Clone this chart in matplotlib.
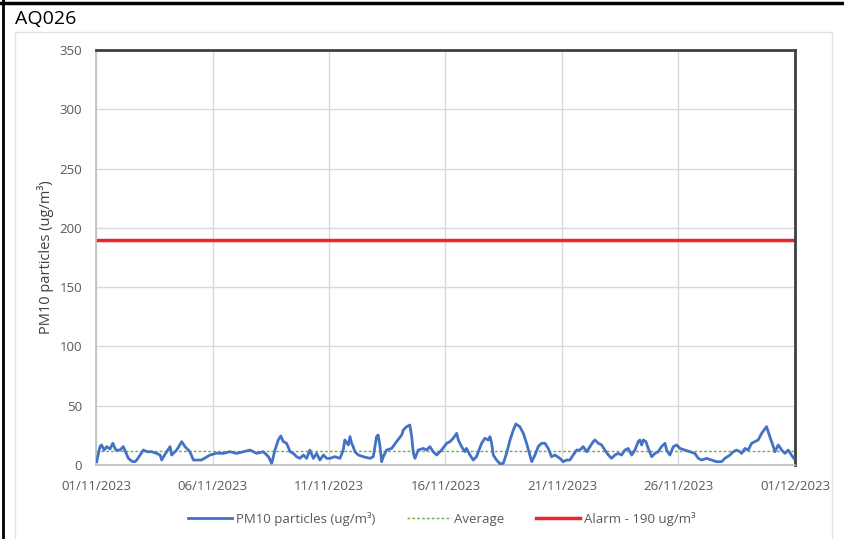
import matplotlib
matplotlib.use("Agg")
import matplotlib.pyplot as plt
from matplotlib.lines import Line2D
from matplotlib.patches import Rectangle

plt.rcParams['font.family'] = ['Open Sans', 'DejaVu Sans']

title = "AQ026"
y_label = "PM10 particles (ug/m³)"
x_tick_days = [0, 5, 10, 15, 20, 25, 30]
x_tick_labels = ["01/11/2023", "06/11/2023", "11/11/2023", "16/11/2023",
                 "21/11/2023", "26/11/2023", "01/12/2023"]
y_ticks = [0, 50, 100, 150, 200, 250, 300, 350]

# PM10 readings: day offset from 01/11/2023 and value (ug/m3)
pm10_days = [
    0.03, 0.17, 0.24, 0.35, 0.46, 0.60, 0.72, 0.85, 1.03, 1.17, 1.39, 1.55, 1.67, 1.75,
    2.03, 2.20, 2.39, 2.60, 2.75, 2.82, 2.96, 3.18, 3.25, 3.46, 3.68, 3.82, 4.03, 4.18,
    4.53, 4.89, 5.18, 5.46, 5.75, 6.04, 6.32, 6.61, 6.75, 6.90, 7.18, 7.40, 7.54, 7.68,
    7.82, 7.93, 8.04, 8.18, 8.33, 8.47, 8.61, 8.75, 8.90, 9.04, 9.18, 9.33, 9.47, 9.61,
    9.76, 9.90,
    10.04, 10.25, 10.47, 10.61, 10.68, 10.83, 10.90, 10.97, 11.04, 11.11, 11.26, 11.47,
    11.76, 11.90, 12.04, 12.11, 12.19, 12.26, 12.33, 12.47, 12.69, 12.90, 13.12, 13.19,
    13.33, 13.47, 13.55, 13.62, 13.69, 13.83, 14.05, 14.19, 14.33, 14.47, 14.62, 14.83,
    15.05, 15.19, 15.33, 15.48, 15.55, 15.69, 15.83, 15.90, 16.05, 16.19, 16.33, 16.55,
    16.69, 16.84, 16.91, 16.98, 17.05, 17.19, 17.34, 17.48, 17.62, 17.77, 17.91, 18.02,
    18.19, 18.34, 18.48, 18.62, 18.70, 18.84, 18.98, 19.12, 19.27, 19.41, 19.55, 19.70,
    19.91, 20.05, 20.20,
    20.34, 20.48, 20.63, 20.77, 20.91, 21.06, 21.20, 21.34, 21.41, 21.56, 21.70, 21.84,
    21.99, 22.13, 22.27, 22.41, 22.56, 22.70, 22.84, 22.99, 23.13, 23.27, 23.34, 23.42,
    23.49, 23.60, 23.70, 23.85, 23.99, 24.13, 24.27, 24.42, 24.49, 24.63, 24.78, 24.92,
    25.06, 25.28, 25.49, 25.70, 25.85, 25.99, 26.21, 26.42, 26.63, 26.85, 26.99, 27.21,
    27.35, 27.49, 27.64, 27.71, 27.85, 27.99, 28.14, 28.28, 28.42, 28.57, 28.67, 28.78,
    28.85, 28.92, 29.07, 29.14, 29.28, 29.43, 29.57, 29.71, 29.85, 29.95,
]
pm10_values = [
    2.8, 15.5, 16.9, 12.6, 15.5, 13.5, 18.3, 12.6, 12.6, 15.5, 5.6, 3.0, 2.8, 4.2,
    12.6, 11.2, 11.2, 9.8, 8.4, 4.2, 9.0, 15.5, 8.4, 12.6, 19.7, 15.5, 11.2, 4.2,
    4.2, 8.4, 10.0, 9.8, 11.2, 9.8, 11.2, 12.6, 11.2, 9.8, 11.2, 7.0, 1.4, 12.6,
    21.0, 24.5, 19.7, 18.3, 11.2, 9.8, 7.0, 5.6, 8.4, 5.6, 12.6, 5.6, 9.8, 4.2,
    8.4, 5.6,
    5.6, 7.0, 5.6, 12.6, 21.1, 16.9, 23.9, 18.3, 15.5, 11.2, 8.4, 7.0,
    5.6, 7.0, 23.9, 25.3, 15.5, 2.8, 7.0, 12.6, 14.0, 19.7, 25.3, 29.5,
    32.3, 33.7, 23.9, 9.8, 5.6, 12.6, 14.0, 12.6, 15.5, 11.2, 8.4, 12.6,
    18.3, 19.7, 22.5, 26.7, 21.1, 15.5, 11.2, 14.0, 8.4, 4.2, 7.0, 18.3,
    22.5, 21.1, 23.9, 18.3, 8.4, 4.2, 1.1, 1.4, 9.8, 21.1, 29.5, 34.6,
    32.3, 26.7, 18.3, 8.4, 2.8, 8.4, 15.5, 18.3, 18.3, 14.0, 7.0, 8.4,
    5.6, 2.8, 4.2,
    4.2, 8.4, 12.6, 12.6, 15.5, 11.2, 15.5, 19.7, 21.1, 18.3, 16.9, 12.6,
    8.4, 5.6, 8.4, 9.8, 8.4, 12.6, 14.0, 8.4, 12.6, 19.7, 21.1, 16.9,
    21.1, 19.7, 14.0, 7.0, 9.8, 11.2, 15.5, 18.3, 12.6, 8.4, 15.5, 16.9,
    14.0, 12.6, 11.2, 9.8, 5.6, 4.2, 5.6, 4.2, 2.8, 2.8, 5.6, 8.4,
    11.2, 12.6, 11.2, 9.8, 14.0, 12.6, 18.3, 19.7, 21.1, 26.7, 29.5, 32.3,
    28.1, 23.9, 15.5, 11.2, 16.9, 12.6, 9.8, 12.6, 8.4, 5.6,
]
average_value = 11.5
alarm_value = 190

W, H = 844, 539
fig = plt.figure(figsize=(W / 100, H / 100), dpi=100)
fig.patch.set_facecolor("white")

# outer frame lines and inner chart-area border
fig.add_artist(Line2D([0, 1], [1 - 3 / H, 1 - 3 / H], color="black", lw=2.5,
                      transform=fig.transFigure))
fig.add_artist(Line2D([3 / W, 3 / W], [0, 1], color="black", lw=2,
                      transform=fig.transFigure))
fig.add_artist(Rectangle((15 / W, -0.05), (832 - 15) / W, (H - 32) / H + 0.05,
                         transform=fig.transFigure, fill=False,
                         edgecolor="#e3e3e3", lw=1))
fig.text(15 / W, 1 - 19 / H, title, fontsize=14, va="center", ha="left",
         color="black")

ax = fig.add_axes([96 / W, (H - 465) / H, (795 - 96) / W, (465 - 50) / H])
ax.set_xlim(0, 30)
ax.set_ylim(0, 350)

ax.plot(pm10_days, pm10_values, color="#4472c4", lw=2.0,
        label="PM10 particles (ug/m³)", zorder=3)
ax.axhline(average_value, color="#70ad47", lw=1.0, ls=(0, (2, 1.5)),
           label="Average", zorder=2)
ax.axhline(alarm_value, color="#e8262b", lw=2.5, label="Alarm - 190 ug/m³",
           zorder=2)

ax.set_xticks(x_tick_days)
ax.set_xticklabels(x_tick_labels)
ax.set_yticks(y_ticks)
ax.grid(True, color="#d9d9d9", lw=1)
ax.set_axisbelow(True)
ax.tick_params(length=0, labelsize=9.5, colors="#595959")
ax.tick_params(axis="y", pad=10)
ax.tick_params(axis="x", pad=11)
for s in ["left", "bottom"]:
    ax.spines[s].set_color("#bfbfbf")
    ax.spines[s].set_linewidth(1.2)
for s in ["top", "right"]:
    ax.spines[s].set_color("#404040")
    ax.spines[s].set_linewidth(2)
ax.set_ylabel(y_label, fontsize=10.5, color="#404040", labelpad=4)

handles, labels = ax.get_legend_handles_labels()
fig.legend(handles, labels, loc="center", bbox_to_anchor=(442 / W, 1 - 519 / H),
           ncol=3, frameon=False, fontsize=9.5, labelcolor="#595959",
           handlelength=3.3, columnspacing=2.4, handletextpad=0.3)

fig.savefig("out.png", dpi=100)
